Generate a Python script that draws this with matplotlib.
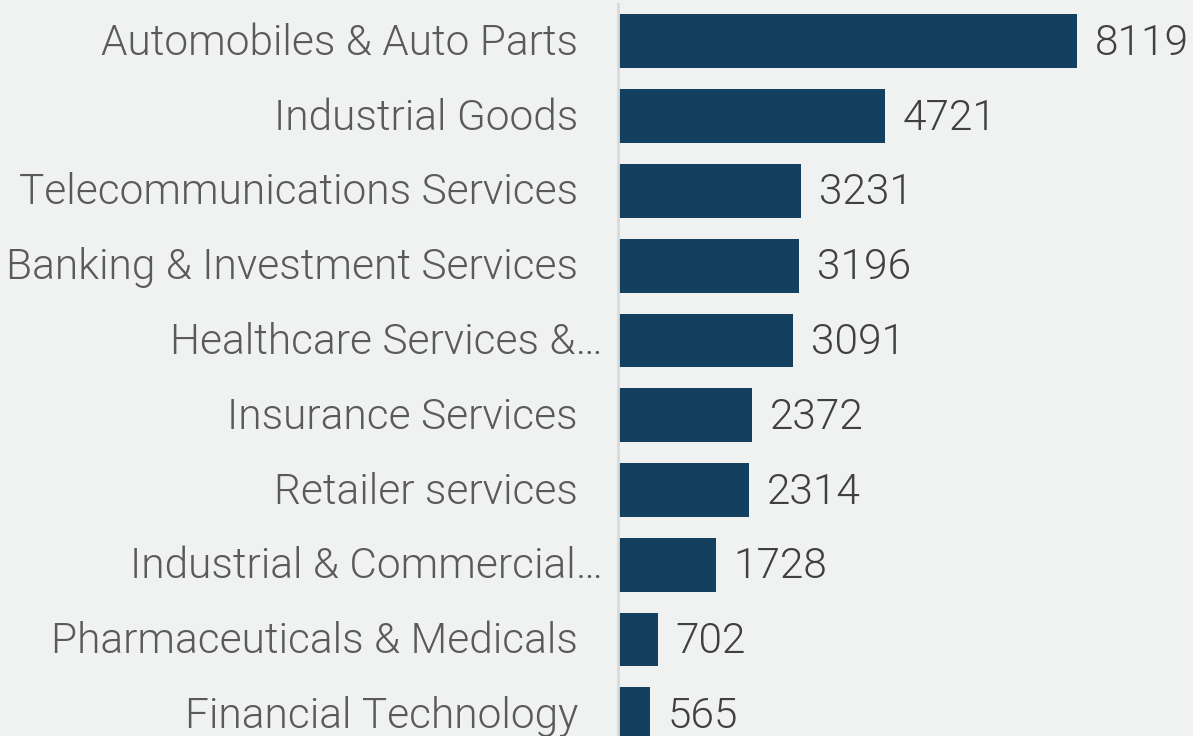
import matplotlib.pyplot as plt
from matplotlib import font_manager as fm
from matplotlib.transforms import offset_copy

categories = ['Automobiles & Auto Parts', 'Industrial Goods', 'Telecommunications Services',
              'Banking & Investment Services', 'Healthcare Services &…', 'Insurance Services',
              'Retailer services', 'Industrial & Commercial…', 'Pharmaceuticals & Medicals',
              'Financial Technology']
values = [8119, 4721, 3231, 3196, 3091, 2372, 2314, 1728, 702, 565]

# use the Roboto Light file directly
light = [f.fname for f in fm.fontManager.ttflist if f.fname.endswith('Roboto-Light.ttf')]
if light:
    font = fm.FontProperties(fname=light[0], size=30.5)
else:
    font = fm.FontProperties(family='Roboto', weight=300, size=30.5)

bg = '#f0f1f1'
fig = plt.figure(figsize=(11.93, 7.36), dpi=100, facecolor=bg)
ax = fig.add_axes([618 / 1193, 0, 1 - 618 / 1193, 1 - 4 / 736])
ax.set_facecolor(bg)

pos = list(range(len(categories)))
ax.barh(pos, values, height=0.72, color='#12405e')
ax.set_xlim(0, 10171)
ax.set_ylim(9.29, -0.5)

for s in ['top', 'right', 'bottom']:
    ax.spines[s].set_visible(False)
ax.spines['left'].set_color('#d9dbdb')
ax.spines['left'].set_linewidth(2)
ax.set_xticks([])
ax.set_yticks([])

# values to the right of the bars
for p, v in zip(pos, values):
    t = offset_copy(ax.transData, fig=fig, x=18, y=-2, units='dots')
    ax.text(v, p, str(v), transform=t, ha='left', va='center',
            fontproperties=font, color='#404040')

# category labels, truncated ones sit a bit further right
for p, c in zip(pos, categories):
    dx = -15 if c.endswith('…') else -40
    t = offset_copy(ax.get_yaxis_transform(), fig=fig, x=dx, y=-2, units='dots')
    ax.text(0, p, c, transform=t, ha='right', va='center',
            fontproperties=font, color='#5a5a5a')

fig.savefig('out.png', facecolor=bg)
